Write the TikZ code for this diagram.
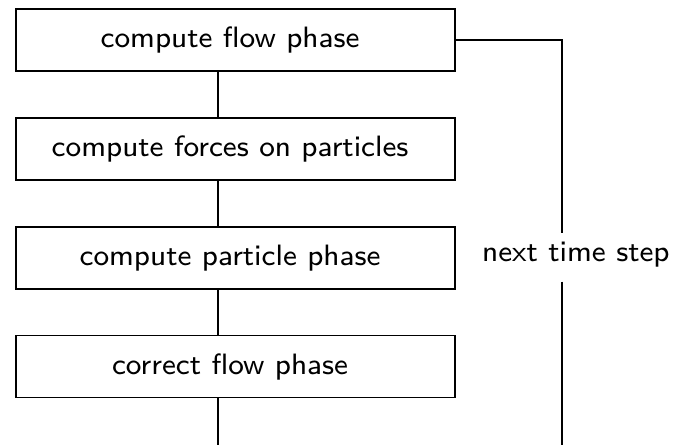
\documentclass[tikz,border=0pt]{standalone}
\usepackage{graphicx}
\usetikzlibrary{positioning}

\begin{document}
\begin{tikzpicture}[font=\sffamily,
    phasebox/.style={draw,semithick,minimum width=6.37cm,minimum height=0.9cm},
    link/.style={semithick},
    node distance=0.66cm]
  \newcommand{\ptext}[1]{\scalebox{1.52}{\fontsize{8}{10}\selectfont #1}\kern0.16cm}
  \useasboundingbox (0,0) rectangle (9.77,6.46);
  %\draw[help lines] (0,0) grid (10,7);
  \node[phasebox] (flow) at (3.42,5.88) {\ptext{compute flow phase}};
  \node[phasebox,below=of flow] (forces) {\ptext{compute forces on particles}};
  \node[phasebox,below=of forces] (particle) {\ptext{compute particle phase}};
  \node[phasebox,below=of particle] (correct) {\ptext{correct flow phase}};
  \node[inner sep=0pt] (step) at (8.44,2.76) {\ptext{next time step}};
  % the lines sit left of the box and label centres
  \coordinate (spine) at (3.165,0);
  \coordinate (rail) at (8.16,0);
  \coordinate (corner) at (rail |- flow);
  \coordinate (stepA) at ([yshift=0.32cm]step.center -| rail);
  \coordinate (stepB) at ([yshift=-0.39cm]step.center -| rail);
  \draw[link] (flow.south -| spine) -- (forces.north -| spine)
              (forces.south -| spine) -- (particle.north -| spine)
              (particle.south -| spine) -- (correct.north -| spine);
  \draw[link] (correct.south -| spine) -- (spine);
  \draw[link] (flow) -- (corner) -- (stepA);
  \draw[link] (stepB) -- (rail);
\end{tikzpicture}
\end{document}
